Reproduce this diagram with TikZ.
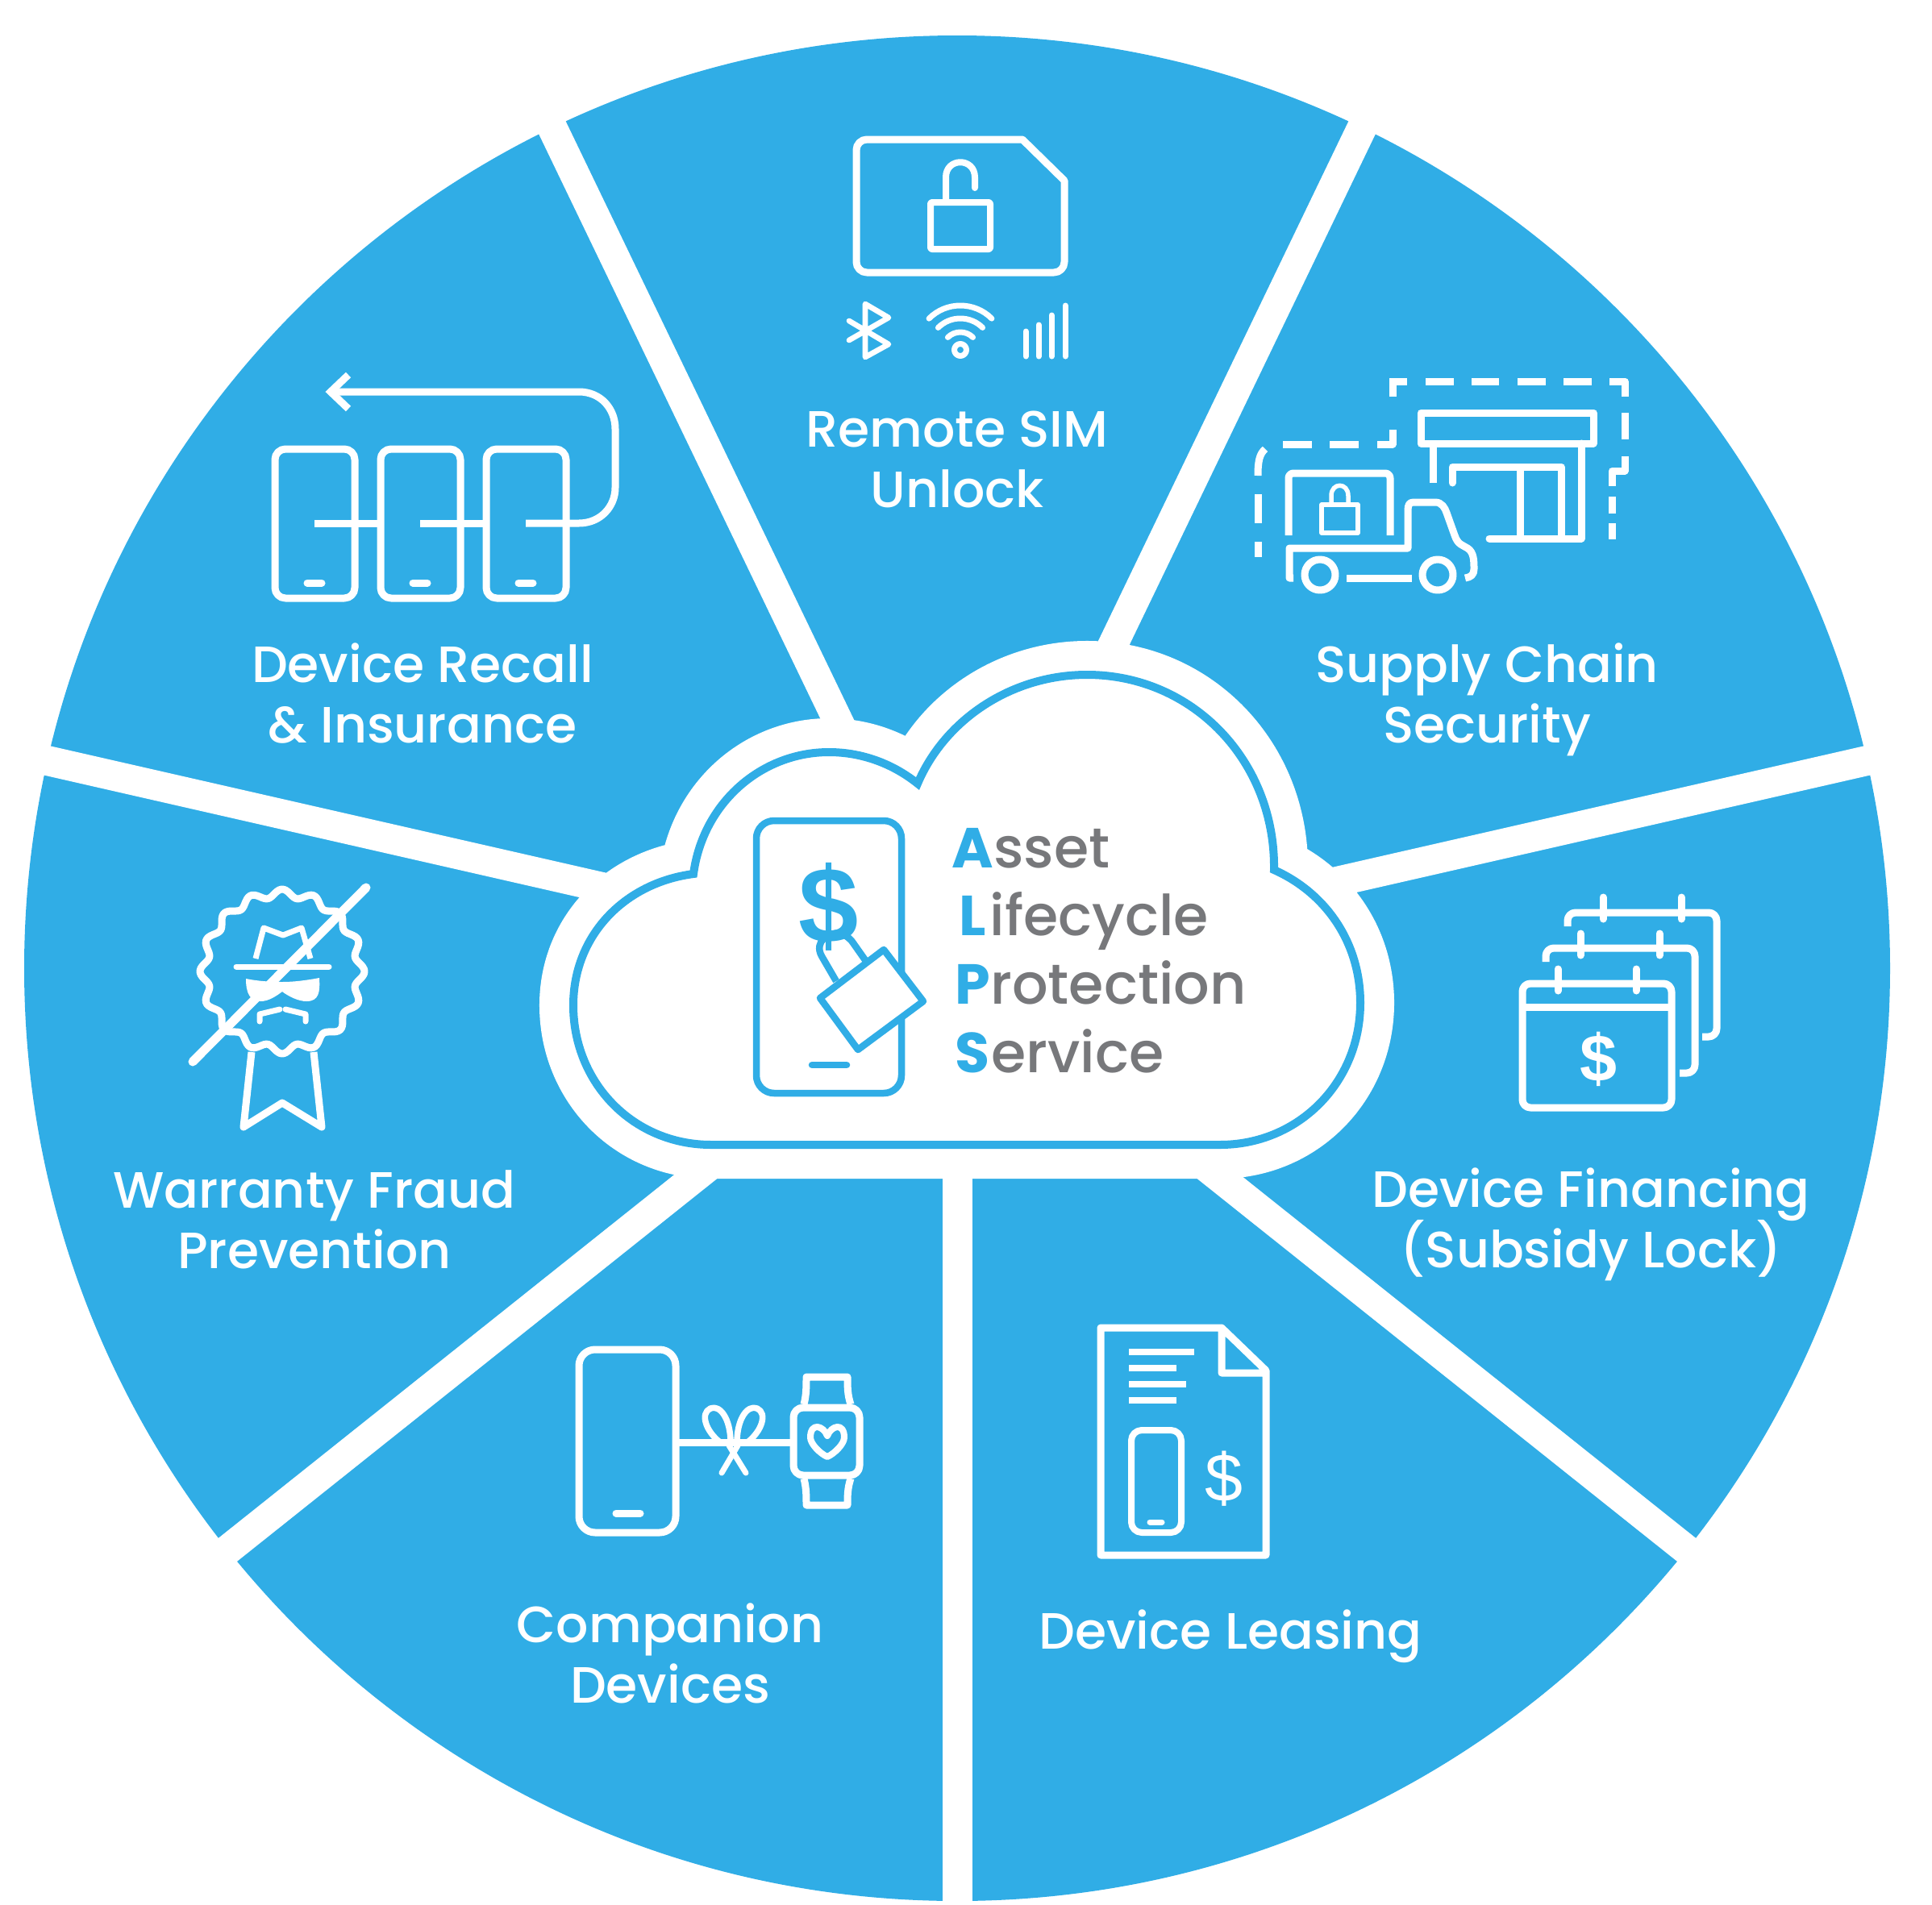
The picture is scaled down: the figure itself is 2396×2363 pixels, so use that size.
\documentclass[tikz,border=0pt]{standalone}
\usepackage{fontspec}
\setmainfont{Poppins Medium}
\newfontfamily\cloudfont[BoldFont={Poppins Bold}]{Poppins Medium}
\newfontfamily\signfont{Liberation Sans}
\definecolor{wheelblue}{RGB}{48,173,230}
\definecolor{cloudgray}{RGB}{119,120,123}
\setlength{\normallineskiplimit}{-20pt}
\setlength{\lineskiplimit}{-20pt}
\tikzset{
  icon/.style={draw=white,line width=0.9mm,line join=round},
  thin icon/.style={icon,line width=0.7mm},
  round icon/.style={icon,line cap=round},
  dash piece/.style={icon,line width=0.9mm},
  blue icon/.style={draw=wheelblue,line width=0.85mm,line join=round},
  service/.style={text=white,align=center,font=\fontsize{18}{21.2}\selectfont},
  acronym/.style={anchor=base west,text=cloudgray,inner sep=0pt,font=\cloudfont\fontsize{19.9}{24}\selectfont},
}
\newcommand{\firstletter}[1]{{\bfseries\color{wheelblue}#1}}
\newcommand{\cloudpath}{(882,1420) .. controls (785,1420) and (711,1343) .. (711,1247)
  .. controls (711,1160) and (775,1095) .. (860,1084)
  .. controls (872,995) and (945,933) .. (1028,933)
  .. controls (1070,933) and (1108,948) .. (1138,972)
  .. controls (1172,892) and (1255,837) .. (1348,837)
  .. controls (1480,837) and (1582,945) .. (1580,1079)
  .. controls (1645,1108) and (1687,1170) .. (1687,1244)
  .. controls (1687,1343) and (1610,1420) .. (1513,1420) -- cycle}
\begin{document}
\begin{tikzpicture}[x=0.01cm,y=-0.01cm]
\useasboundingbox (0,0) rectangle (2396,2363);
%wheel
\fill[wheelblue] (1187,1201) circle[radius=1157];
\foreach \a in {0,...,6}
  \draw[white,line width=3.7mm] (1187,1201) -- +({90+\a*360/7}:1250);
%cloud
\draw[white,fill=white,line width=8.4mm,line join=round] \cloudpath;
\draw[wheelblue,line width=1mm,fill=white] \cloudpath;
%phone in cloud
\draw[blue icon,rounded corners=2.2mm] (938,1018) rectangle (1118,1356);
\draw[blue icon,line cap=round] (1007,1321) -- (1050,1321);
\node[text=wheelblue,font=\signfont\bfseries\fontsize{38}{40}\selectfont] (bigdollar) at (1028,1125) {\$};
\draw[blue icon] (1037,1217) -- (1019,1186) .. controls (1009,1168) and (1028,1155) .. (1042,1158) .. controls (1050,1160) and (1056,1166) .. (1059,1171) -- (1078,1198);
\draw[blue icon,fill=white] (1096,1178) -- (1145,1242) -- (1064,1302) -- (1017,1238) -- cycle;
%acronym
\node[acronym] (asset) at (1180,1076) {\firstletter{A}sset};
\node[acronym] (lifecycle) at (1189,1160) {\firstletter{L}\kern1.3pt ifecycle};
\node[acronym] (protection) at (1184,1245) {\firstletter{P}rotection};
\node[acronym] (servicetext) at (1184,1330) {\firstletter{S}\kern0.5pt ervice};
%labels
\node[service] (unlock) at (1187,570) {Remote SIM\\Unlock};
\node[service] (recall) at (524,860) {Device Recall\\\& Insurance};
\node[service] (supply) at (1844,868) {Supply Chain\\Security};
\node[service] (warranty) at (390,1513) {Warranty Fraud\\Prevention};
\node[service] (financing) at (1973,1519) {Device Financing\\(Subsidy Lock)};
\node[service] (companion) at (831,2051) {Companion\\Devices};
\node[service] (leasing) at (1526,2030) {Device Leasing};
%sim card
\draw[icon] (1268,173) [rounded corners=1.3mm] -- (1062,173) -- (1062,338) -- (1320,338) [sharp corners] -- (1320,224) -- cycle;
\draw[icon,line width=0.8mm,rounded corners=0.2mm] (1154,251) rectangle (1228,309);
\draw[icon,line width=0.8mm,line cap=round] (1173,251) -- (1173,220) .. controls (1173,195) and (1209,195) .. (1209,220) -- (1209,233);
\draw[round icon,line width=0.67mm] (1053,398) -- (1102,427) -- (1073,443) -- (1073,377) -- (1102,394) -- (1053,422);
\draw[thin icon] (1191,434) circle[radius=7.5];
\foreach \r in {22,39,55}
  \draw[round icon,line width=0.7mm] (1191,434) ++(-135:\r) arc[start angle=-135,end angle=-45,radius=\r];
\foreach \x/\t in {1272/411,1288/403,1304/391,1321/379}
  \draw[round icon,line width=0.7mm] (\x,\t) -- (\x,442);
%supply chain
\draw[dash piece,line join=miter] (1727,492) -- (1727,473) -- (1745,473);
\foreach \s/\e in {1768/1803,1825/1859,1882/1917,1939/1974}
  \draw[dash piece] (\s,473) -- (\e,473);
\draw[dash piece] (1996,473) -- (2015,473) -- (2015,492);
\draw[dash piece] (2015,512) -- (2015,545);
\draw[dash piece] (2015,566) -- (2015,584) -- (1999,584) -- (1999,603);
\draw[dash piece] (1999,616) -- (1999,637);
\draw[dash piece] (1999,649) -- (1999,669);
\draw[dash piece] (1727,533) -- (1727,551) -- (1708,551);
\draw[dash piece] (1649,551) -- (1685,551);
\draw[dash piece] (1591,551) -- (1627,551);
\draw[dash piece] (1569,557) .. controls (1562,563) and (1560,572) .. (1560,590);
\draw[dash piece] (1560,613) -- (1560,649);
\draw[dash piece] (1560,672) -- (1560,691);
\draw[dash piece] (1762,512) rectangle (1976,550);
\draw[dash piece] (1777,550) -- (1777,599);
\draw[dash piece,line cap=round] (1961,550) -- (1961,668) -- (1847,668);
\draw[dash piece,line cap=round] (1801,599) -- (1801,579) -- (1936,579) -- (1936,668);
\draw[dash piece] (1885,579) -- (1885,668);
\draw[dash piece,rounded corners=0.6mm] (1598,664) -- (1598,587) -- (1724,587) -- (1724,664);
\draw[icon,line width=0.55mm] (1639,626) rectangle (1684,661);
\draw[icon,line width=0.55mm] (1651,626) -- (1651,615) .. controls (1651,598) and (1672,598) .. (1672,615) -- (1672,626);
\draw[dash piece] (1604,717) -- (1599,717) -- (1599,680) -- (1746,680) -- (1746,633) .. controls (1746,626) and (1748,623) .. (1753,623) -- (1780,623) .. controls (1788,623) and (1792,630) .. (1794,636) -- (1804,664) .. controls (1808,676) and (1814,676) .. (1820,680) .. controls (1828,685) and (1828,696) .. (1828,706) .. controls (1828,713) and (1824,716) .. (1817,717);
\draw[dash piece] (1670,717) -- (1751,717);
\draw[dash piece] (1637,713) circle[radius=19];
\draw[dash piece] (1783,713) circle[radius=19];
%recall
\foreach \x in {341,472,603} {
  \draw[dash piece,rounded corners=1.3mm] (\x,557) rectangle ({\x+99},742);
  \draw[dash piece,line cap=round] ({\x+40},723) -- ({\x+58},723);
}
\draw[dash piece] (390,649) -- (472,649);
\draw[dash piece] (521,649) -- (603,649);
\draw[dash piece] (652,649) -- (718,649) .. controls (745,649) and (763,628) .. (763,605) -- (763,532) .. controls (763,507) and (745,486) .. (718,486) -- (414,486);
\draw[dash piece,line join=miter] (432,465) -- (410,486) -- (432,507);
%financing
\draw[dash piece,rounded corners=1mm] (1888,1220) rectangle (2073,1374);
\draw[icon] (1888,1249) -- (2073,1249);
\draw[dash piece,rounded corners=1mm] (1917,1193) -- (1917,1176) -- (2102,1176) -- (2102,1331) -- (2083,1331);
\draw[dash piece,rounded corners=1mm] (1944,1149) -- (1944,1132) -- (2129,1132) -- (2129,1286) -- (2111,1286);
\foreach \x/\t in {1932/1202,2029/1202,1960/1158,2058/1158,1988/1113,2085/1113}
  \draw[dash piece,line cap=round] (\x,\t) -- (\x,{\t+27});
\node[text=white,font=\signfont\bfseries\fontsize{23.5}{26}\selectfont] (calendardollar) at (1982,1314) {\$};
%leasing
\draw[icon] (1515,1647) -- (1365,1647) -- (1365,1929) -- (1570,1929) -- (1570,1700) -- (1515,1647) -- (1515,1703) -- (1570,1703);
\foreach \y/\e in {1677/1481,1697/1459,1717/1471,1737/1459}
  \draw[thin icon,line width=0.75mm] (1400,\y) -- (\e,\y);
\draw[thin icon,line width=0.8mm,rounded corners=1.3mm] (1403,1774) rectangle (1465,1901);
\draw[thin icon,line cap=round] (1426,1888) -- (1441,1888);
\node[text=white,font=\signfont\fontsize{24}{26}\selectfont] (leasingdollar) at (1518,1834) {\$};
%companion
\draw[icon,rounded corners=2mm] (718,1674) rectangle (838,1901);
\draw[icon,line cap=round] (764,1877) -- (794,1877);
\draw[icon] (838,1789) -- (984,1789);
\draw[thin icon,line width=0.75mm] (906,1789) .. controls (906,1760) and (893,1742) .. (881,1747) .. controls (868,1753) and (875,1775) .. (893,1789);
\draw[thin icon,line width=0.75mm] (914,1789) .. controls (914,1760) and (927,1742) .. (939,1747) .. controls (952,1753) and (945,1775) .. (927,1789);
\draw[thin icon,line cap=round] (915,1793) -- (895,1827);
\draw[thin icon,line cap=round] (904,1793) -- (925,1827);
\draw[icon,rounded corners=1.2mm] (984,1746) rectangle (1066,1830);
\draw[icon] (997,1742) .. controls (1000,1730) and (1000,1720) .. (1000,1708) -- (1051,1708) .. controls (1051,1720) and (1051,1730) .. (1055,1742);
\draw[icon] (997,1834) .. controls (1000,1846) and (1000,1856) .. (1000,1867) -- (1051,1867) .. controls (1051,1856) and (1051,1846) .. (1055,1834);
\draw[thin icon,line width=0.8mm] (1026,1781) .. controls (1021,1768) and (1005,1764) .. (1005,1783) .. controls (1005,1791) and (1017,1803) .. (1026,1807) .. controls (1035,1803) and (1047,1791) .. (1047,1783) .. controls (1047,1764) and (1031,1768) .. (1026,1781) -- cycle;
%warranty
\draw[icon,shift={(350,1205)}] plot[domain=0:360,samples=240,smooth] (\x:{97+5*cos(16*\x)}) -- cycle;
\draw[icon] (312,1305) -- (302,1398) -- (350,1368) -- (399,1398) -- (389,1305);
\draw[thin icon] (317,1189) -- (327,1151) -- (351,1160) -- (374,1151) -- (385,1189);
\draw[thin icon,line cap=round] (293,1199) -- (408,1199);
\fill[white] (305,1214) .. controls (320,1217) and (335,1218) .. (350,1218) .. controls (365,1218) and (380,1216) .. (396,1213) .. controls (397,1230) and (396,1242) .. (380,1242) .. controls (370,1242) and (358,1236) .. (350,1230) .. controls (342,1236) and (333,1242) .. (323,1242) .. controls (310,1242) and (305,1232) .. (305,1214) -- cycle;
\draw[thin icon,line cap=round] (322,1267) -- (322,1258) -- (347,1252);
\draw[thin icon,line cap=round] (379,1267) -- (379,1258) -- (354,1252);
\draw[round icon,line width=1.1mm] (239,1317) -- (454,1101);
\end{tikzpicture}
\end{document}
